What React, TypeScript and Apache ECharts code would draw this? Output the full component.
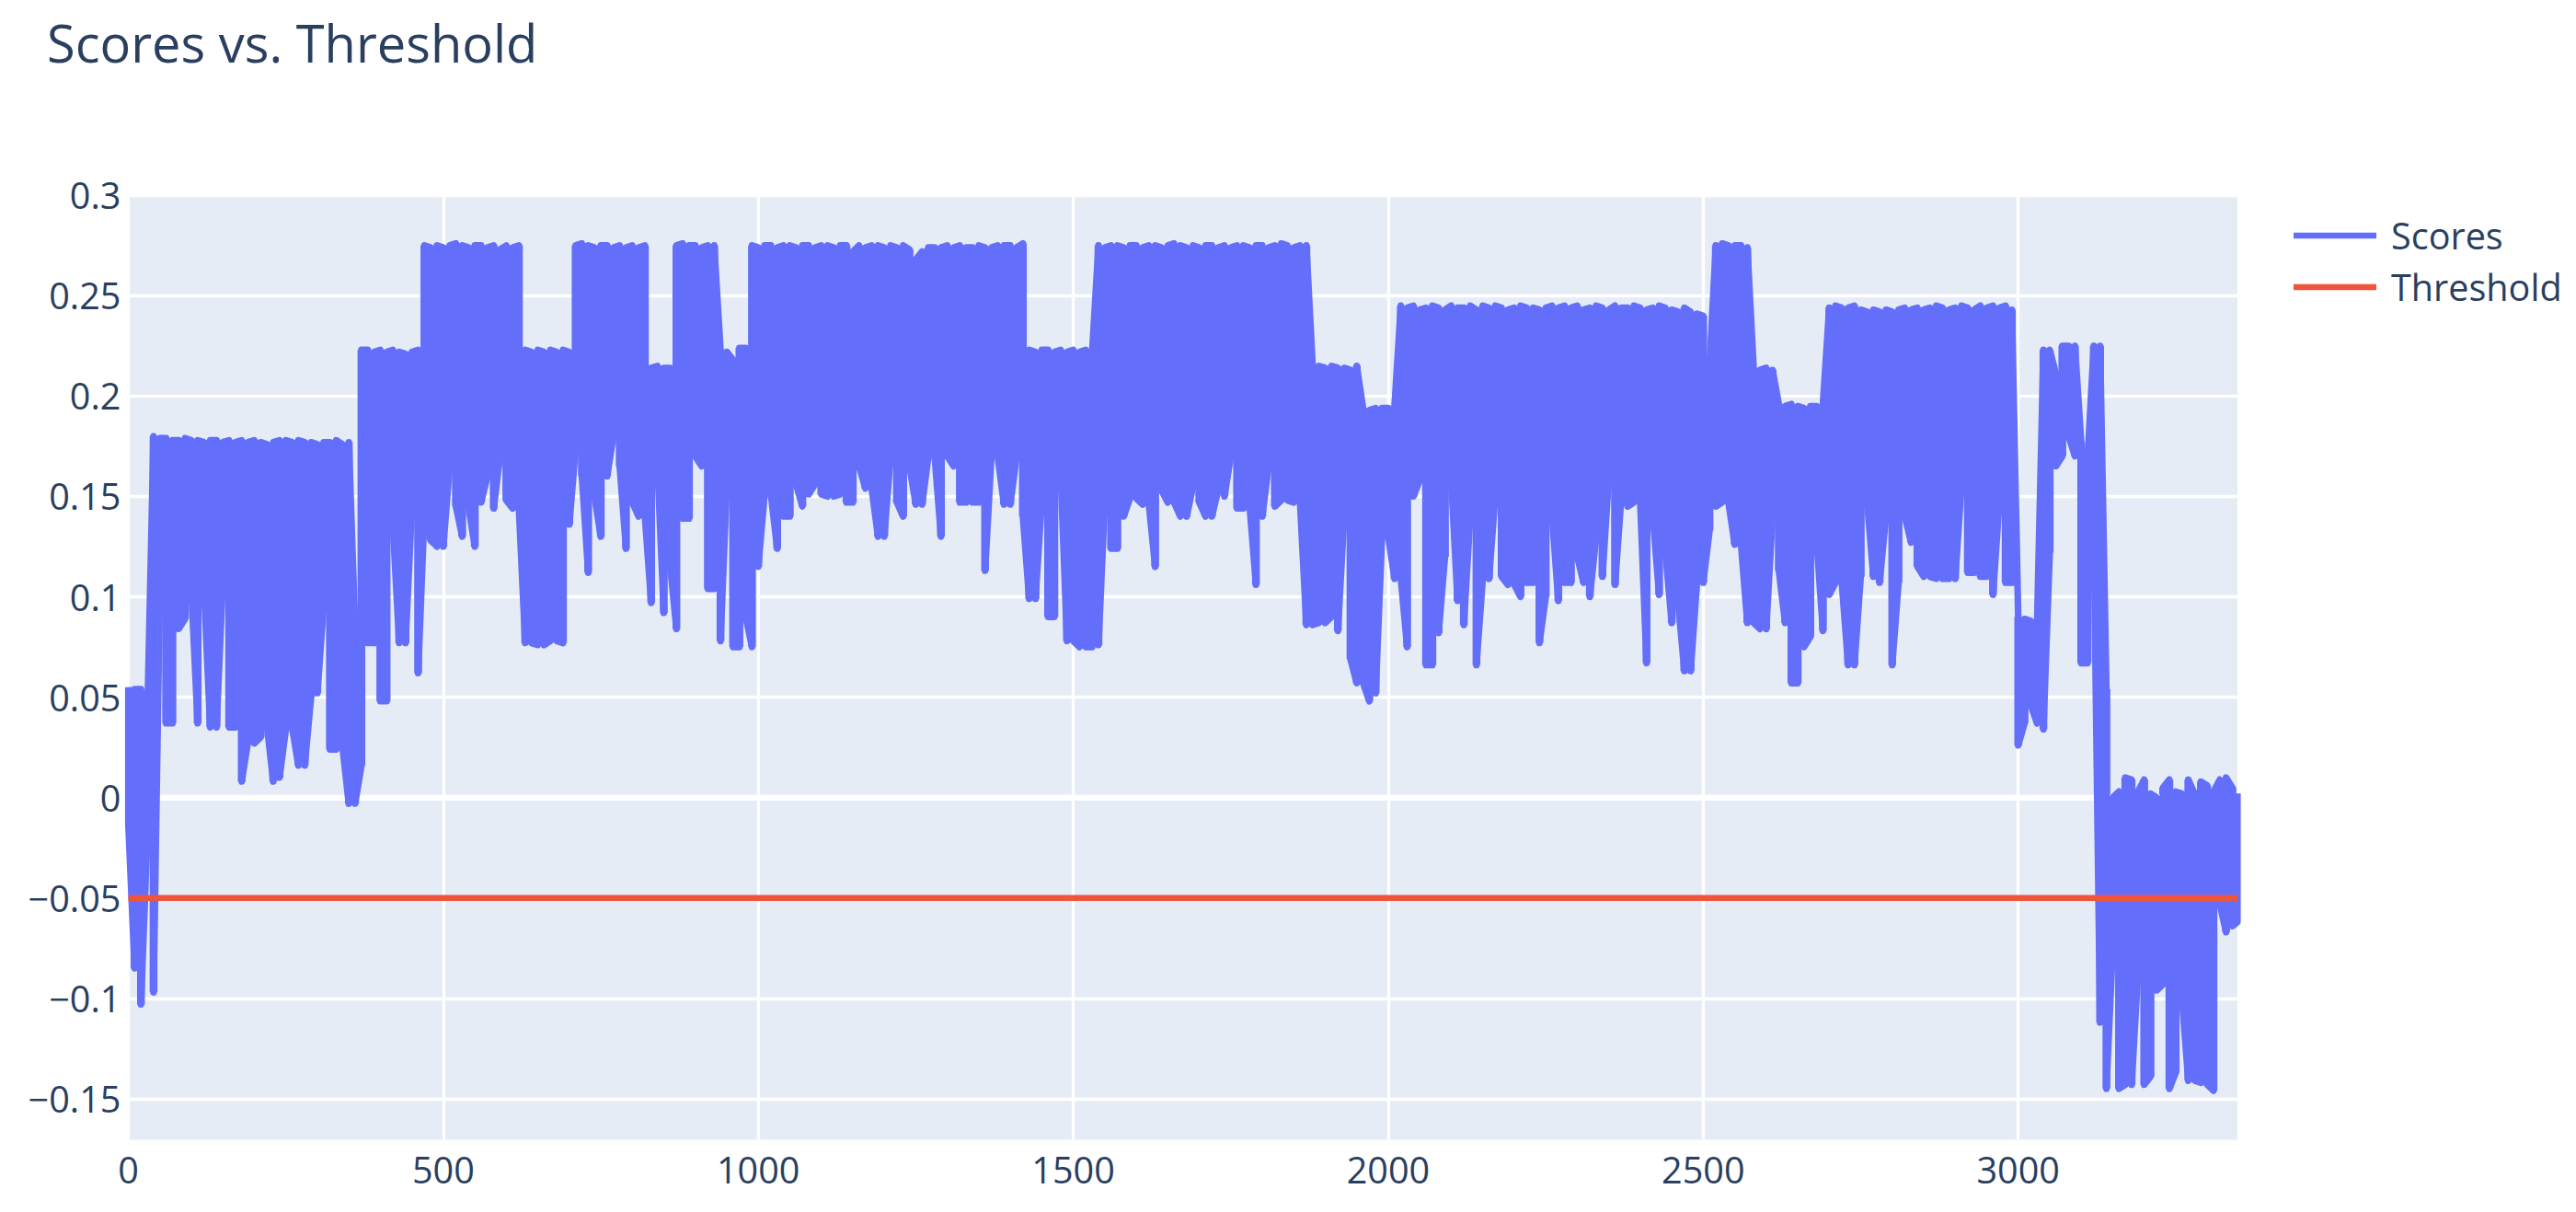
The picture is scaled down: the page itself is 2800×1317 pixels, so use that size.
import React, { useEffect, useRef } from "react";
import * as echarts from "echarts";

const titleText = "Scores vs. Threshold";
const scoresName = "Scores";
const thresholdName = "Threshold";
const bucketStep = 10;
const lastIndex = 3348;
const thresholdValue = -0.05;
const yTicks = [-0.15, -0.1, -0.05, 0, 0.05, 0.1, 0.15, 0.2, 0.25, 0.3];
const xTicks = [0, 500, 1000, 1500, 2000, 2500, 3000];
const yMin = -0.1704;
const yMax = 0.3003;

// Upper envelope of Scores, one value per 10-index bucket
const scoreHigh = [
  0.055, 0.054, 0.054, 0.038, 0.18, 0.179, 0.179, 0.178, 0.178, 0.179,
  0.178, 0.178, 0.177, 0.178, 0.178, 0.177, 0.178, 0.177, 0.178, 0.177,
  0.178, 0.177, 0.176, 0.177, 0.178, 0.178, 0.177, 0.178, 0.177, 0.177,
  0.176, 0.177, 0.177, 0.178, 0.176, 0.177, 0.084, 0.223, 0.223, 0.222,
  0.223, 0.222, 0.223, 0.222, 0.221, 0.222, 0.223, 0.275, 0.274, 0.275,
  0.274, 0.275, 0.276, 0.275, 0.274, 0.275, 0.275, 0.274, 0.275, 0.273,
  0.275, 0.274, 0.275, 0.223, 0.222, 0.223, 0.222, 0.223, 0.222, 0.223,
  0.222, 0.275, 0.276, 0.275, 0.274, 0.275, 0.275, 0.274, 0.275, 0.274,
  0.275, 0.274, 0.275, 0.214, 0.215, 0.214, 0.214, 0.275, 0.276, 0.275,
  0.275, 0.274, 0.275, 0.275, 0.223, 0.222, 0.218, 0.224, 0.224, 0.275,
  0.274, 0.275, 0.275, 0.274, 0.275, 0.275, 0.274, 0.275, 0.275, 0.274,
  0.275, 0.275, 0.274, 0.275, 0.275, 0.272, 0.275, 0.274, 0.275, 0.275,
  0.274, 0.275, 0.274, 0.275, 0.273, 0.268, 0.272, 0.274, 0.274, 0.274,
  0.275, 0.274, 0.275, 0.274, 0.274, 0.275, 0.274, 0.274, 0.275, 0.275,
  0.275, 0.274, 0.276, 0.223, 0.222, 0.223, 0.223, 0.222, 0.223, 0.222,
  0.223, 0.222, 0.223, 0.222, 0.275, 0.274, 0.275, 0.275, 0.274, 0.275,
  0.275, 0.274, 0.275, 0.275, 0.274, 0.275, 0.276, 0.275, 0.274, 0.275,
  0.274, 0.275, 0.275, 0.274, 0.275, 0.274, 0.275, 0.275, 0.274, 0.275,
  0.275, 0.274, 0.275, 0.276, 0.275, 0.274, 0.275, 0.275, 0.215, 0.215,
  0.214, 0.215, 0.214, 0.214, 0.213, 0.215, 0.194, 0.193, 0.194, 0.194,
  0.194, 0.195, 0.245, 0.244, 0.245, 0.243, 0.244, 0.245, 0.244, 0.243,
  0.245, 0.244, 0.244, 0.245, 0.243, 0.245, 0.244, 0.245, 0.244, 0.243,
  0.244, 0.245, 0.244, 0.244, 0.243, 0.244, 0.245, 0.244, 0.245, 0.244,
  0.245, 0.243, 0.244, 0.245, 0.244, 0.243, 0.245, 0.244, 0.244, 0.245,
  0.244, 0.243, 0.244, 0.245, 0.244, 0.243, 0.242, 0.244, 0.242, 0.241,
  0.24, 0.215, 0.275, 0.276, 0.275, 0.275, 0.275, 0.274, 0.214, 0.213,
  0.214, 0.213, 0.196, 0.195, 0.196, 0.195, 0.194, 0.195, 0.195, 0.196,
  0.244, 0.245, 0.244, 0.244, 0.245, 0.243, 0.242, 0.243, 0.242, 0.243,
  0.242, 0.243, 0.244, 0.243, 0.244, 0.243, 0.244, 0.245, 0.244, 0.243,
  0.244, 0.245, 0.244, 0.243, 0.245, 0.244, 0.245, 0.244, 0.245, 0.243,
  0.09, 0.089, 0.088, 0.087, 0.223, 0.223, 0.211, 0.225, 0.225, 0.225,
  0.177, 0.168, 0.225, 0.225, 0.054, 0.0, 0.003, 0.01, 0.009, 0.003,
  0.009, 0.002, 0.0, 0.005, 0.009, 0.003, 0.002, 0.009, 0.002, 0.008,
  0.006, 0.003, 0.009, 0.01, 0.005, 0.002,
];

// Lower envelope of Scores, one value per 10-index bucket
const scoreLow = [
  -0.013, -0.085, -0.103, -0.02, -0.097, 0.104, 0.037, 0.037, 0.084, 0.089,
  0.104, 0.037, 0.105, 0.035, 0.035, 0.108, 0.035, 0.035, 0.008, 0.028,
  0.027, 0.03, 0.036, 0.008, 0.01, 0.034, 0.035, 0.016, 0.016, 0.05,
  0.052, 0.095, 0.024, 0.024, 0.025, -0.003, -0.003, 0.016, 0.077, 0.077,
  0.048, 0.048, 0.135, 0.077, 0.077, 0.144, 0.062, 0.142, 0.128, 0.125,
  0.125, 0.165, 0.145, 0.13, 0.145, 0.125, 0.147, 0.16, 0.144, 0.17,
  0.148, 0.144, 0.144, 0.077, 0.077, 0.076, 0.076, 0.078, 0.078, 0.077,
  0.136, 0.174, 0.16, 0.112, 0.15, 0.13, 0.16, 0.18, 0.165, 0.124,
  0.147, 0.14, 0.14, 0.097, 0.165, 0.092, 0.116, 0.084, 0.139, 0.139,
  0.17, 0.165, 0.104, 0.104, 0.078, 0.156, 0.075, 0.075, 0.09, 0.075,
  0.115, 0.151, 0.151, 0.124, 0.14, 0.14, 0.156, 0.145, 0.151, 0.156,
  0.151, 0.15, 0.15, 0.151, 0.147, 0.147, 0.165, 0.154, 0.154, 0.13,
  0.13, 0.17, 0.147, 0.14, 0.165, 0.146, 0.146, 0.17, 0.17, 0.13,
  0.17, 0.165, 0.147, 0.147, 0.147, 0.147, 0.113, 0.17, 0.17, 0.146,
  0.146, 0.17, 0.14, 0.099, 0.099, 0.148, 0.09, 0.09, 0.162, 0.078,
  0.078, 0.075, 0.075, 0.075, 0.076, 0.147, 0.124, 0.124, 0.14, 0.149,
  0.149, 0.146, 0.146, 0.115, 0.153, 0.147, 0.147, 0.14, 0.14, 0.155,
  0.147, 0.14, 0.14, 0.153, 0.15, 0.17, 0.144, 0.144, 0.145, 0.106,
  0.14, 0.165, 0.145, 0.148, 0.148, 0.147, 0.147, 0.086, 0.086, 0.087,
  0.087, 0.09, 0.083, 0.14, 0.069, 0.057, 0.057, 0.048, 0.052, 0.13,
  0.13, 0.109, 0.109, 0.075, 0.15, 0.158, 0.066, 0.066, 0.082, 0.12,
  0.158, 0.098, 0.086, 0.14, 0.066, 0.109, 0.109, 0.151, 0.11, 0.106,
  0.106, 0.1, 0.107, 0.107, 0.077, 0.1, 0.14, 0.098, 0.107, 0.107,
  0.12, 0.107, 0.1, 0.13, 0.11, 0.159, 0.106, 0.15, 0.145, 0.147,
  0.147, 0.067, 0.14, 0.101, 0.122, 0.087, 0.098, 0.063, 0.063, 0.107,
  0.107, 0.133, 0.145, 0.147, 0.147, 0.126, 0.126, 0.087, 0.087, 0.084,
  0.084, 0.14, 0.113, 0.087, 0.057, 0.057, 0.075, 0.08, 0.128, 0.083,
  0.101, 0.107, 0.107, 0.066, 0.066, 0.11, 0.148, 0.11, 0.107, 0.14,
  0.066, 0.107, 0.14, 0.127, 0.115, 0.11, 0.11, 0.109, 0.109, 0.109,
  0.109, 0.156, 0.112, 0.112, 0.11, 0.11, 0.101, 0.147, 0.107, 0.107,
  0.026, 0.037, 0.046, 0.037, 0.034, 0.122, 0.165, 0.17, 0.18, 0.17,
  0.067, 0.067, 0.13, -0.112, -0.145, -0.075, -0.145, -0.143, -0.143, -0.088,
  -0.143, -0.139, -0.096, -0.093, -0.145, -0.137, -0.1, -0.141, -0.141, -0.142,
  -0.143, -0.146, -0.053, -0.067, -0.064, -0.062,
];

const FONT = "'Open Sans', verdana, arial, sans-serif";
const TEXT_COLOR = "#2a3f5f";
const SCORE_COLOR = "#636efa";
const THRESH_COLOR = "#EF553B";

const bucketX = (i: number) => Math.min(i * bucketStep, lastIndex);

// The Scores trace swings between its low and high value inside each bucket.
function buildScoreLine(): [number, number][] {
  const pts: [number, number][] = [];
  scoreHigh.forEach((h, i) => {
    const x = bucketX(i);
    const l = scoreLow[i];
    if (i % 2 === 0) {
      pts.push([x, h], [x, l]);
    } else {
      pts.push([x, l], [x, h]);
    }
  });
  return pts;
}

// [x, low, high] per bucket: the dense swing region of the trace
const bandData = scoreHigh.map((h, i) => [bucketX(i), scoreLow[i], h]);

const fmtY = (v: number) => (v < 0 ? "\u2212" + String(Math.abs(v)) : String(v));

export default function App() {
  const ref = useRef<HTMLDivElement>(null);

  useEffect(() => {
    document.body.style.margin = "0";
    if (!ref.current) return;
    const chart = echarts.init(ref.current, undefined, { renderer: "svg" });
    const legendIcon = "path://M0,0H90V6.6H0Z";
    const half = bucketStep / 2;
    const option: any = {
      animation: false,
      backgroundColor: "#ffffff",
      title: {
        text: titleText,
        left: 46,
        top: 13,
        textStyle: { fontFamily: FONT, fontSize: 56, fontWeight: "normal", color: TEXT_COLOR },
      },
      legend: {
        orient: "vertical",
        left: 2493,
        top: 236,
        padding: 0,
        itemWidth: 90,
        itemHeight: 14,
        itemGap: 16,
        selectedMode: false,
        data: [
          { name: scoresName, icon: legendIcon },
          { name: thresholdName, icon: legendIcon },
        ],
        textStyle: { fontFamily: FONT, fontSize: 39.6, color: TEXT_COLOR, padding: [0, 0, 0, 11] },
      },
      grid: {
        left: 139.5,
        right: 368,
        top: 211.5,
        bottom: 78.5,
        show: true,
        backgroundColor: "#E5ECF6",
        borderWidth: 0,
        containLabel: false,
      },
      xAxis: {
        type: "value",
        min: 0,
        max: lastIndex,
        axisLine: { show: false },
        axisTick: { show: false, customValues: xTicks },
        axisLabel: {
          customValues: xTicks,
          formatter: (v: number) => String(v),
          fontFamily: FONT,
          fontSize: 39.6,
          color: TEXT_COLOR,
          margin: 12,
        },
        splitLine: { show: true, lineStyle: { color: "#ffffff", width: 3.3 } },
      },
      yAxis: {
        type: "value",
        min: yMin,
        max: yMax,
        axisLine: { show: false },
        axisTick: { show: false, customValues: yTicks },
        axisLabel: {
          customValues: yTicks,
          formatter: fmtY,
          fontFamily: FONT,
          fontSize: 39.6,
          color: TEXT_COLOR,
          margin: 8,
        },
        splitLine: { show: true, lineStyle: { color: "#ffffff", width: 3.3 } },
      },
      series: [
        {
          name: "zeroline",
          type: "line",
          silent: true,
          symbol: "none",
          data: [
            [0, 0],
            [lastIndex, 0],
          ],
          lineStyle: { color: "#ffffff", width: 6.6 },
          itemStyle: { color: "#ffffff" },
        },
        {
          name: "scoreBand",
          type: "custom",
          coordinateSystem: "cartesian2d",
          silent: true,
          encode: { x: 0, y: [1, 2] },
          data: bandData,
          renderItem: (params: any, api: any) => {
            const x = api.value(0);
            const lo = api.value(1);
            const hi = api.value(2);
            const p1 = api.coord([x - half, hi]);
            const p2 = api.coord([x + half, lo]);
            const cs = params.coordSys;
            const left = Math.max(p1[0] - 0.8, cs.x);
            const right = Math.min(p2[0] + 0.8, cs.x + cs.width);
            return {
              type: "rect",
              shape: {
                x: left,
                y: p1[1],
                width: Math.max(0, right - left),
                height: p2[1] - p1[1],
              },
              style: { fill: SCORE_COLOR },
            };
          },
        },
        {
          name: scoresName,
          type: "line",
          symbol: "none",
          data: buildScoreLine(),
          lineStyle: { color: SCORE_COLOR, width: 7.2, join: "round" },
          itemStyle: { color: SCORE_COLOR },
        },
        {
          name: thresholdName,
          type: "line",
          symbol: "none",
          data: [
            [0, thresholdValue],
            [lastIndex, thresholdValue],
          ],
          lineStyle: { color: THRESH_COLOR, width: 6.6 },
          itemStyle: { color: THRESH_COLOR },
        },
      ],
    };
    chart.setOption(option);
    return () => {
      chart.dispose();
    };
  }, []);

  return <div ref={ref} style={{ width: 2800, height: 1317 }} />;
}
